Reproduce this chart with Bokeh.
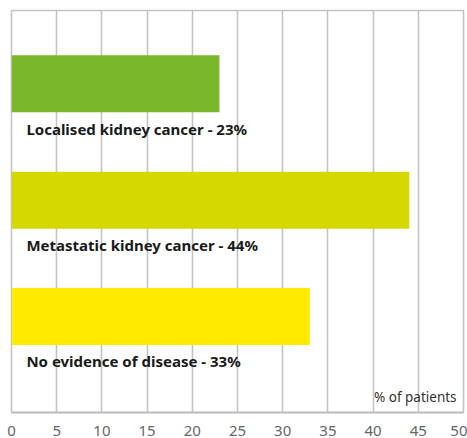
from bokeh.plotting import figure
from bokeh.models import ColumnDataSource, Range1d, FixedTicker, Label
from bokeh.core.properties import value
from bokeh.embed import file_html
from bokeh.resources import INLINE

categories = ["Localised kidney cancer", "Metastatic kidney cancer", "No evidence of disease"]
percentages = [23, 44, 33]
bar_colors = ["#7AB72B", "#D4D700", "#FFEA00"]
x_ticks = [0, 5, 10, 15, 20, 25, 30, 35, 40, 45, 50]
axis_note = "% of patients"

n = len(categories)
ypos = [n - i for i in range(n)]
labels = [f"{c} - {v}%" for c, v in zip(categories, percentages)]

src = ColumnDataSource(dict(
    y=ypos, x=percentages, color=bar_colors, label=labels,
    ly=[y - 0.385 for y in ypos], lx=[1.65] * n,
))

p = figure(width=467, height=438, output_backend="svg", toolbar_location=None,
           x_range=Range1d(0, 50), y_range=Range1d(0.175, 3.63),
           min_border_left=11, min_border_right=4, min_border_top=10, min_border_bottom=25)

p.hbar(y="y", right="x", left=0, height=0.49, color="color", line_color=None, source=src)
p.text(x="lx", y="ly", text="label", source=src, text_font=value("Noto Sans"),
       text_font_style="bold", text_font_size="15px", text_color="#1a1a1a",
       text_baseline="middle", text_align="left")

p.add_layout(Label(x=40.1, y=0.306, text=axis_note, text_font="Noto Sans",
                   text_font_size="13.5px", text_color="#333333", text_baseline="middle"))

p.xaxis.ticker = FixedTicker(ticks=x_ticks)
p.xaxis.major_tick_line_color = None
p.xaxis.minor_tick_line_color = None
p.xaxis.axis_line_color = "#BFBFBF"
p.xaxis.axis_line_width = 2
p.xaxis.major_label_text_font = "Noto Sans"
p.xaxis.major_label_text_font_size = "15px"
p.xaxis.major_label_text_color = "#666666"
p.xaxis.major_label_standoff = 7
p.yaxis.visible = False

p.xgrid.grid_line_color = "#C4C4C4"
p.xgrid.grid_line_width = 1.6
p.ygrid.grid_line_color = None
p.outline_line_color = "#C4C4C4"
p.outline_line_width = 1.6
p.background_fill_color = "white"
p.border_fill_color = "white"

open("out.html", "w").write(file_html(p, INLINE))
